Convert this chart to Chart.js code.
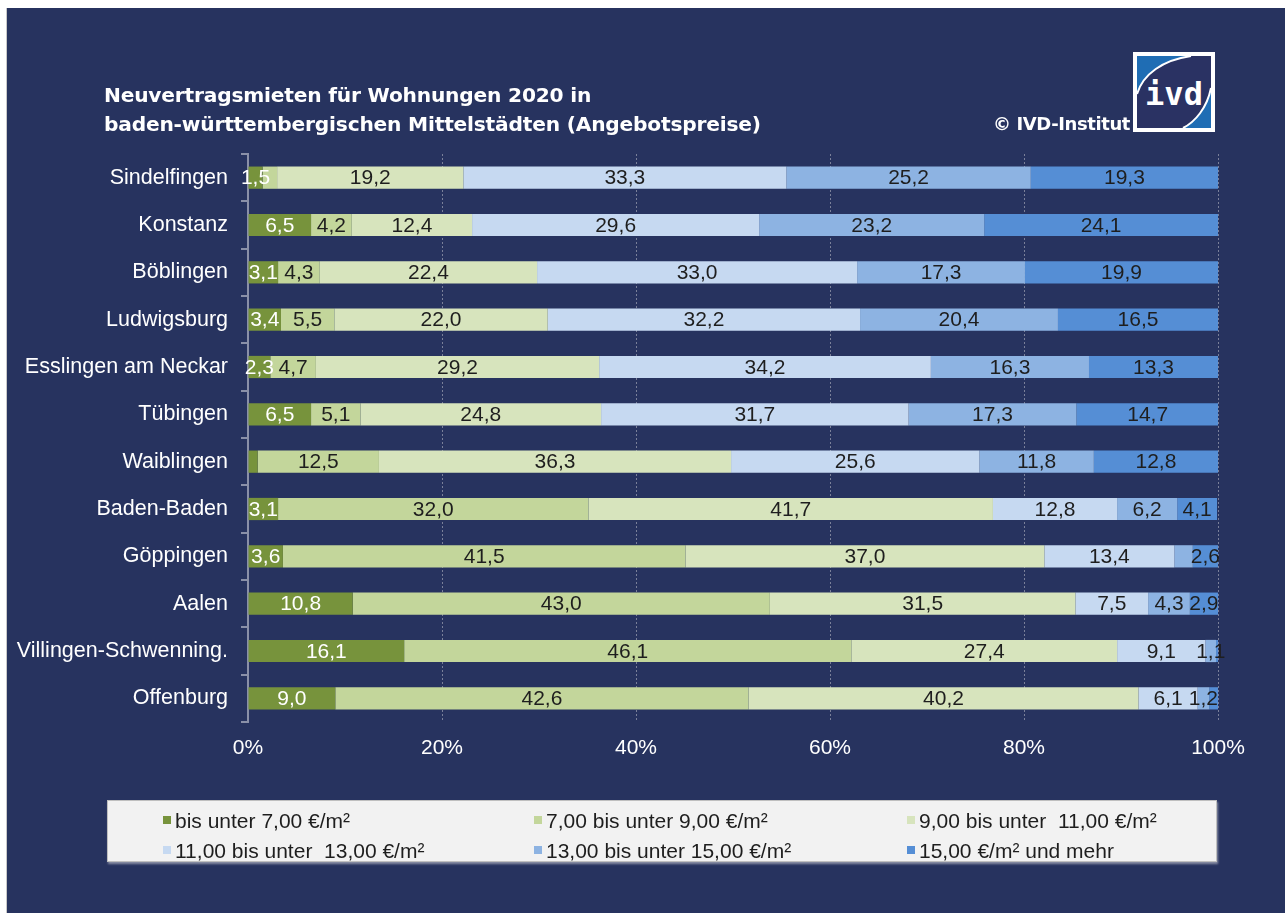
<!DOCTYPE html>
<html>

<head>
  <meta charset="UTF-8">
  <script src="https://cdn.jsdelivr.net/npm/chart.js"></script>
  <title>Neuvertragsmieten 2020</title>
  <style>
    body { margin: 0; background: #fff; width: 1285px; height: 913px; overflow: hidden; position: relative; font-family: "Liberation Sans", Arial, sans-serif; }
    .panel { position: absolute; left: 6px; top: 8px; width: 1278px; height: 905px; background: #27335f; border-left: 1px solid #c8c8c8; }
    #chart { position: absolute; left: 0; top: 0; }
    .titel { position: absolute; left: 104px; top: 81px; color: #fff; font-family: "DejaVu Sans", sans-serif; font-weight: bold; font-size: 20.2px; line-height: 29px; white-space: nowrap; letter-spacing: -0.2px; }
    .copy { position: absolute; left: 993px; top: 113px; color: #fff; font-family: "DejaVu Sans", sans-serif; font-weight: bold; font-size: 18px; letter-spacing: -0.4px; }
    .logo { position: absolute; left: 1133px; top: 52px; }
    .legende { position: absolute; left: 107px; top: 800px; width: 1108px; height: 60px; background: #f2f2f2; border: 1px solid #bfbfbf; box-shadow: 1px 2px 2px #8a8fa5; }
    .legende div { position: absolute; font-size: 21px; color: #1e1e1e; white-space: pre; line-height: 22px; }
    .legende span { display: inline-block; width: 8px; height: 8px; margin-right: 4px; vertical-align: 4px; }
  </style>
</head>

<body>
  <div class="panel"></div>
  <canvas id="chart" width="1285" height="913"></canvas>
  <div class="titel">Neuvertragsmieten für Wohnungen 2020 in<br>baden-württembergischen Mittelstädten (Angebotspreise)</div>
  <div class="copy">© IVD-Institut</div>
  <svg class="logo" width="82" height="80" viewBox="0 0 82 80">
    <rect x="0" y="0" width="82" height="80" fill="#fff" />
    <rect x="4" y="4" width="74" height="72" fill="#2a3263" />
    <path d="M4,4 L58,4 C30,8 10,22 4,42 Z" fill="#1f6db4" />
    <path d="M4,42 C10,22 30,8 58,4" fill="none" stroke="#fff" stroke-width="2" />
    <path d="M78,36 C74,56 62,70 50,76 L78,76 Z" fill="#1f6db4" />
    <path d="M78,36 C74,56 62,70 50,76" fill="none" stroke="#fff" stroke-width="2" />
    <text x="41" y="53" text-anchor="middle" fill="#fff" font-family="DejaVu Sans Mono" font-weight="bold" font-size="32">ivd</text>
  </svg>
  <div class="legende" id="legende"></div>

<script>
  var staedte = ["Sindelfingen", "Konstanz", "Böblingen", "Ludwigsburg", "Esslingen am Neckar", "Tübingen",
    "Waiblingen", "Baden-Baden", "Göppingen", "Aalen", "Villingen-Schwenning.", "Offenburg"];

  var klassen = ["bis unter 7,00 €/m²", "7,00 bis unter 9,00 €/m²", "9,00 bis unter  11,00 €/m²",
    "11,00 bis unter  13,00 €/m²", "13,00 bis unter 15,00 €/m²", "15,00 €/m² und mehr"];

  // Anteile in % je Preisklasse, Reihenfolge wie staedte
  var unter7 = [1.5, 6.5, 3.1, 3.4, 2.3, 6.5, 1.0, 3.1, 3.6, 10.8, 16.1, 9.0];
  var von7bis9 = [1.5, 4.2, 4.3, 5.5, 4.7, 5.1, 12.5, 32.0, 41.5, 43.0, 46.1, 42.6];
  var von9bis11 = [19.2, 12.4, 22.4, 22.0, 29.2, 24.8, 36.3, 41.7, 37.0, 31.5, 27.4, 40.2];
  var von11bis13 = [33.3, 29.6, 33.0, 32.2, 34.2, 31.7, 25.6, 12.8, 13.4, 7.5, 9.1, 6.1];
  var von13bis15 = [25.2, 23.2, 17.3, 20.4, 16.3, 17.3, 11.8, 6.2, 1.9, 4.3, 1.1, 1.2];
  var ab15 = [19.3, 24.1, 19.9, 16.5, 13.3, 14.7, 12.8, 4.1, 2.6, 2.9, 0.2, 0.9];

  var xTicks = [0, 20, 40, 60, 80, 100];

  // Werte ohne Beschriftung im Original
  var ohneLabel = [[6], [0], [], [], [8], [10, 11]];

  var farben = ["#77933c", "#c3d69b", "#d7e4bd", "#c6d9f1", "#8db3e2", "#558ed5"];
  var reihen = [unter7, von7bis9, von9bis11, von11bis13, von13bis15, ab15];

  var datasets = [];
  for (var i = 0; i < reihen.length; i++) {
    datasets.push({
      label: klassen[i],
      data: reihen[i],
      backgroundColor: farben[i],
      borderWidth: 0,
      barPercentage: 0.47,
      categoryPercentage: 1
    });
  }

  var segLabels = {
    id: "segLabels",
    afterDatasetsDraw: function (chart) {
      var ctx = chart.ctx;
      ctx.save();
      ctx.font = '21px "Liberation Sans", Arial, sans-serif';
      ctx.textAlign = "center";
      ctx.textBaseline = "middle";
      chart.data.datasets.forEach(function (ds, di) {
        var meta = chart.getDatasetMeta(di);
        meta.data.forEach(function (bar, j) {
          var v = ds.data[j];
          if (!v || ohneLabel[di].indexOf(j) >= 0) return;
          ctx.fillStyle = di === 0 ? "#ffffff" : "#1e1e1e";
          ctx.fillText(v.toFixed(1).replace(".", ","), (bar.x + bar.base) / 2, bar.y + 1);
        });
      });
      ctx.restore();
    }
  };

  new Chart(document.getElementById("chart"), {
    type: "bar",
    data: { labels: staedte, datasets: datasets },
    plugins: [segLabels],
    options: {
      responsive: false,
      animation: false,
      indexAxis: "y",
      layout: { padding: { top: 154, right: 67, bottom: 151, left: 0 } },
      plugins: { legend: { display: false }, tooltip: { enabled: false } },
      scales: {
        x: {
          stacked: true,
          min: 0,
          max: 100,
          afterBuildTicks: function (scale) {
            scale.ticks = xTicks.map(function (v) { return { value: v }; });
          },
          afterFit: function (scale) { scale.height = 40; },
          grid: { color: "#7a8099", lineWidth: 1, drawTicks: false },
          border: { display: false, dash: [2, 2] },
          ticks: {
            color: "#ffffff",
            padding: 14,
            font: { size: 21, family: '"Liberation Sans", Arial, sans-serif' },
            callback: function (v) { return v + "%"; }
          }
        },
        y: {
          stacked: true,
          afterFit: function (scale) { scale.width = 248; },
          grid: { drawOnChartArea: false, drawTicks: true, tickLength: 7, color: "#8a90a8", lineWidth: 2 },
          border: { display: true, color: "#8a90a8", width: 2 },
          ticks: {
            color: "#ffffff",
            padding: 13,
            font: { size: 21.5, family: '"Liberation Sans", Arial, sans-serif' }
          }
        }
      }
    }
  });

  // Legende
  var legende = document.getElementById("legende");
  var spaltenX = [55, 426, 799];
  var zeilenY = [9, 39];
  for (var k = 0; k < klassen.length; k++) {
    var el = document.createElement("div");
    el.style.left = spaltenX[k % 3] + "px";
    el.style.top = zeilenY[Math.floor(k / 3)] + "px";
    el.innerHTML = '<span style="background:' + farben[k] + '"></span>' + klassen[k];
    legende.appendChild(el);
  }
</script>
</body>

</html>
